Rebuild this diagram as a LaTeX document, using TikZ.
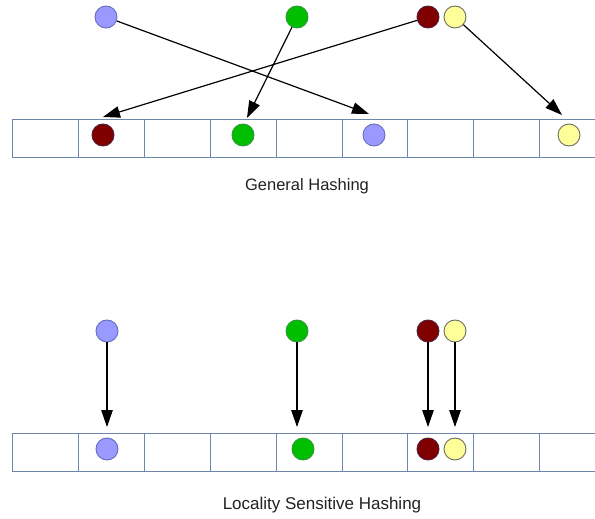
\documentclass[tikz,border=0pt]{standalone}
\usepackage{fontspec}
\setmainfont{Liberation Sans}
\usetikzlibrary{arrows.meta}
\definecolor{cellc}{RGB}{110,134,172}
\definecolor{bluef}{RGB}{153,153,255}
\definecolor{blued}{RGB}{100,110,190}
\definecolor{greenf}{RGB}{0,190,0}
\definecolor{greend}{RGB}{50,150,60}
\definecolor{brownf}{RGB}{128,0,0}
\definecolor{brownd}{RGB}{80,30,60}
\definecolor{yellowf}{RGB}{255,255,153}
\definecolor{yellowd}{RGB}{110,110,100}
\definecolor{txt}{RGB}{34,34,34}
\tikzset{
  ball/.style={circle,minimum size=22pt,inner sep=0pt,line width=0.9pt},
  bl/.style={ball,fill=bluef,draw=blued},
  gr/.style={ball,fill=greenf,draw=greend},
  br/.style={ball,fill=brownf,draw=brownd},
  ye/.style={ball,fill=yellowf,draw=yellowd},
  cellbox/.style={draw=cellc,line width=0.9pt,minimum width=65.9pt,minimum height=38pt,inner sep=0pt},
  arr/.style={line width=1.2pt,-{Triangle[length=17pt,width=11.5pt]}},
  lbl/.style={text=txt,font=\fontsize{16.5}{18}\selectfont}
}
\begin{document}
\begin{tikzpicture}[x=1pt,y=-1pt]
\clip (0,0) rectangle (595,519);
\fill[white] (0,0) rectangle (595,519);
% arrays
\foreach \i in {0,...,8} {
  \node[cellbox,anchor=north west] (t\i) at ({12+65.9*\i},119) {};
}
\foreach \i in {0,...,8} {
  \node[cellbox,anchor=north west] (b\i) at ({12+65.9*\i},433) {};
}
% top sources
\node[bl] (tb) at (106,17) {};
\node[gr] (tg) at (297,17) {};
\node[br] (tr) at (428,17) {};
\node[ye] (ty) at (455,17) {};
% top targets
\node[br] (tr2) at (103,135) {};
\node[gr] (tg2) at (243,135) {};
\node[bl] (tb2) at (374,135) {};
\node[ye] (ty2) at (569,135) {};
\coordinate (ab) at (369,114);
\coordinate (ag) at (247,118);
\coordinate (ar) at (103,117);
\coordinate (ay) at (562,115);
\draw[arr] (tb) -- (ab);
\draw[arr] (tg) -- (ag);
\draw[arr] (tr) -- (ar);
\draw[arr] (ty) -- (ay);
\node[lbl] (l1) at (307,186) {General Hashing};
% bottom sources
\node[bl] (sb) at (107,331) {};
\node[gr] (sg) at (297,331) {};
\node[br] (sr) at (428,331) {};
\node[ye] (sy) at (455,331) {};
% bottom targets
\node[bl] (db) at (107,449) {};
\node[gr] (dg) at (303,449) {};
\node[br] (dr) at (428,449) {};
\node[ye] (dy) at (455,449) {};
\coordinate (cb) at (107,427);
\coordinate (cg) at (297,427);
\coordinate (cr) at (428,427);
\coordinate (cy) at (455,427);
\draw[arr] (sb) -- (cb);
\draw[arr] (sg) -- (cg);
\draw[arr] (sr) -- (cr);
\draw[arr] (sy) -- (cy);
\node[lbl,font=\fontsize{17}{19}\selectfont] (l2) at (322,505) {Locality Sensitive Hashing};
\end{tikzpicture}
\end{document}
